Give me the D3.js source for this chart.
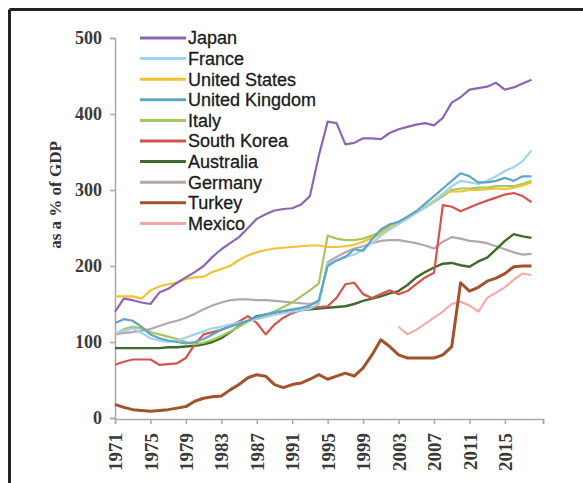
<!DOCTYPE html>
<html><head><meta charset="utf-8">
<script src="https://cdn.jsdelivr.net/npm/d3@7"></script>
<style>html,body{margin:0;padding:0;background:#fff;}svg{display:block;}</style>
</head><body>
<svg id="chart" width="583" height="483"></svg>
<script>
const years = [1971,1972,1973,1974,1975,1976,1977,1978,1979,1980,1981,1982,1983,1984,1985,1986,1987,1988,1989,1990,1991,1992,1993,1994,1995,1996,1997,1998,1999,2000,2001,2002,2003,2004,2005,2006,2007,2008,2009,2010,2011,2012,2013,2014,2015,2016,2017,2018];
const seriesNames = ["Japan","France","United States","United Kingdom","Italy","South Korea","Australia","Germany","Turkey","Mexico"];
const japan = [140,157,155,152,150,165,170,178,185,192,200,212,222,230,238,250,262,268,273,275,276,281,292,345,390,388,360,362,368,368,367,375,380,383,386,388,385,395,415,422,432,434,436,441,432,435,440,445];
const france = [112,115,118,112,105,102,100,102,106,110,114,118,120,123,126,128,130,133,136,138,140,142,144,150,203,208,212,215,222,230,240,248,255,262,270,278,285,295,305,312,310,308,312,318,325,330,338,352];
const unitedStates = [160,160,160,157,168,173,176,178,183,185,186,192,196,200,208,214,218,221,223,224,225,226,227,227,225,225,226,228,232,237,242,250,258,265,272,278,286,295,298,298,300,300,301,302,301,303,306,310];
const unitedKingdom = [125,130,128,120,110,105,102,100,98,100,104,110,116,120,124,128,133,136,139,141,143,145,148,155,200,207,212,222,220,235,248,255,258,265,272,282,292,302,312,322,318,310,310,312,316,312,318,318];
const italy = [110,117,120,118,113,110,107,104,100,97,99,103,108,114,120,127,132,136,140,146,152,160,168,177,240,236,234,234,236,240,245,252,258,264,270,277,284,292,300,302,302,303,303,305,305,305,308,312];
const southKorea = [70,74,77,77,77,70,71,72,79,97,110,113,116,121,127,134,125,110,123,132,138,142,145,146,147,158,176,178,163,158,163,168,163,167,176,185,191,280,278,272,277,282,286,290,294,296,292,284];
const australia = [92,92,92,92,92,92,93,93,94,95,97,100,105,113,121,128,134,136,138,140,141,142,143,144,145,146,147,150,154,157,160,164,167,175,185,192,198,203,204,201,199,206,211,222,233,242,239,237];
const germany = [110,112,113,115,117,121,125,128,132,137,143,148,152,155,156,156,155,155,154,153,152,151,150,152,205,212,218,223,226,230,233,234,234,232,230,227,223,232,238,236,233,232,230,226,222,218,215,216];
const turkey = [18,14,11,10,9,10,11,13,15,22,26,28,29,37,44,53,57,55,44,40,44,46,51,57,51,55,59,55,66,83,103,94,83,79,79,79,79,83,94,178,167,172,180,184,190,199,200,200];
const mexico = [null,null,null,null,null,null,null,null,null,null,null,null,null,null,null,null,null,null,null,null,null,null,null,null,null,null,null,null,null,null,null,null,120,110,116,124,132,140,150,153,148,140,158,165,172,182,190,188];
const xTickLabels = ["1971","1975","1979","1983","1987","1991","1995","1999","2003","2007","2011","2015"];
const yTickValues = [0,100,200,300,400,500];

const seriesValues = [japan,france,unitedStates,unitedKingdom,italy,southKorea,australia,germany,turkey,mexico];
const colors = ["#8c66b2","#9fd3ee","#f1c233","#5fa6c6","#a6c75e","#d5534c","#3e6b2c","#b5a6aa","#a3532c","#f2a9a3"];
const widths = [2.2,2.2,2.2,2.2,2.2,2.2,2.4,2.2,3,2];

const svg = d3.select("#chart");
// frame
svg.append("line").attr("x1",9.5).attr("x2",583).attr("y1",9.5).attr("y2",9.5).attr("stroke","#222").attr("stroke-width",3);
svg.append("line").attr("x1",9.5).attr("x2",9.5).attr("y1",9.5).attr("y2",483).attr("stroke","#222").attr("stroke-width",3);

const x = d3.scaleLinear().domain([1971, 2019.3]).range([115, 543]);
const y = d3.scaleLinear().domain([0, 500]).range([418, 38]);

const serif = "'Liberation Serif','Times New Roman',serif";
const axisColor = "#b3a3a3";
const xAxis = svg.append("g").attr("transform","translate(0,419)")
  .call(d3.axisBottom(x).tickValues(xTickLabels.map(Number).concat([2019.3])).tickFormat(d => xTickLabels.includes(String(d)) ? String(d) : "").tickSizeOuter(0).tickSize(5));
xAxis.select(".domain").attr("stroke",axisColor).attr("stroke-width",1.5);
xAxis.selectAll(".tick line").attr("stroke",axisColor).attr("stroke-width",1.5);
xAxis.selectAll(".tick text")
  .attr("transform","rotate(-90)")
  .attr("text-anchor","end").attr("x",-14).attr("y",0).attr("dy","0.35em")
  .style("font-family",serif).style("font-weight","bold").style("font-size","19px").attr("fill","#3a3a3a");

const yAxis = svg.append("g").attr("transform","translate(115,0)")
  .call(d3.axisLeft(y).tickValues(yTickValues).tickSizeOuter(0).tickSize(5));
yAxis.select(".domain").attr("stroke",axisColor).attr("stroke-width",1.5);
yAxis.selectAll(".tick line").attr("stroke",axisColor).attr("stroke-width",1.5);
yAxis.selectAll(".tick text").attr("x",-13)
  .style("font-family",serif).style("font-weight","bold").style("font-size","18px").attr("fill","#3a3a3a");

svg.append("text").attr("transform","translate(61,195) rotate(-90)")
  .attr("text-anchor","middle")
  .style("font-family",serif).style("font-weight","bold").style("font-size","17px").attr("fill","#333")
  .text("as a % of GDP");

const line = d3.line().defined(d => d[1] != null).x(d => x(d[0])).y(d => y(d[1]));
const plotOrder = [7,6,5,9,8,4,2,1,3,0];
plotOrder.forEach(i => {
  svg.append("path").datum(years.map((yr,k)=>[yr, seriesValues[i][k]]))
    .attr("d", line).attr("fill","none").attr("stroke",colors[i]).attr("stroke-width",widths[i]).attr("stroke-linejoin","round");
});

// legend
const lg = svg.append("g");
seriesNames.forEach((name,i) => {
  const ly = 38 + i*20.6;
  lg.append("line").attr("x1",140).attr("x2",186).attr("y1",ly).attr("y2",ly).attr("stroke",colors[i]).attr("stroke-width",3);
  lg.append("text").attr("x",188).attr("y",ly).attr("dy","0.36em")
    .style("font-family","'Liberation Sans',Arial,sans-serif").style("font-size","18px")
    .attr("fill","#1a1a1a").attr("stroke","#1a1a1a").attr("stroke-width",0.3).text(name);
});
</script>
</body></html>
